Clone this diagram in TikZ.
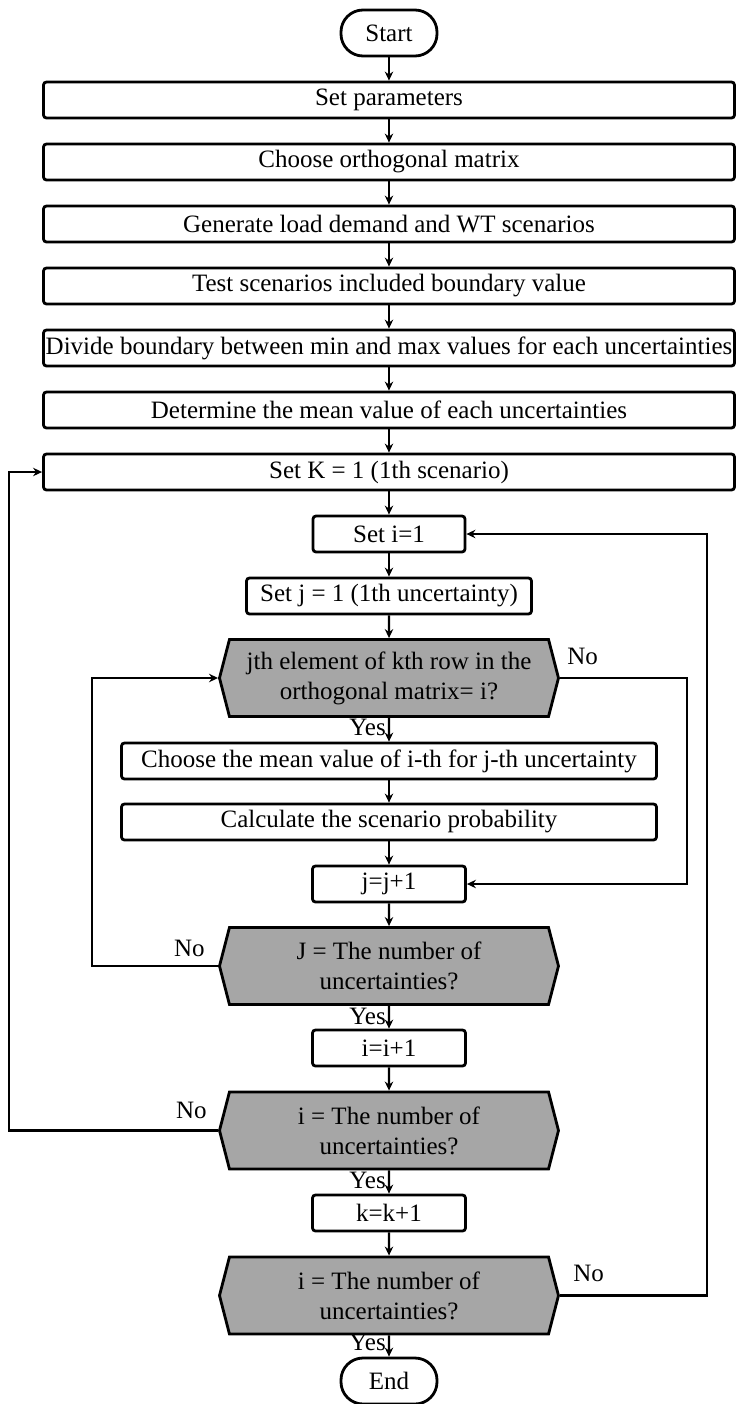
\documentclass[tikz,border=0pt]{standalone}
\usepackage{fontspec}
\setmainfont{Liberation Serif}
\usetikzlibrary{arrows.meta, positioning, shapes.symbols}
\tikzset{
  term/.style  ={rectangle, draw=black, line width=1.4pt, rounded corners=11pt,
                 minimum width=48pt, minimum height=23pt, inner sep=0pt},
  wide/.style  ={rectangle, draw=black, line width=1.4pt, rounded corners=1.5pt,
                 minimum width=345.5pt, minimum height=18pt, inner sep=0pt},
  proc/.style  ={rectangle, draw=black, line width=1.4pt, rounded corners=1.5pt,
                 minimum height=18pt, inner sep=0pt},
  cond/.style  ={signal, signal to=west and east, signal pointer angle=151,
                 draw=black, line width=1.4pt, fill=black!35, align=center,
                 minimum width=169.5pt, minimum height=38.5pt, inner sep=0pt},
  ar/.style    ={-{Stealth[length=4.5pt, width=4.2pt]}, line width=1.2pt, black},
  lp/.style    ={-{Stealth[length=4.5pt, width=4.2pt]}, line width=1.4pt, black},
  lbl/.style   ={inner sep=1pt}
}
\begin{document}
\begin{tikzpicture}[
  font=\fontsize{12.5}{15}\selectfont,
  on grid
]
\useasboundingbox (-194.5pt,16.5pt) rectangle (173pt,-685.5pt);

\node[term] (start) {Start};
\node[wide, below=33.5pt of start] (par) {Set parameters};
\node[wide, below=31pt of par] (orth) {Choose orthogonal matrix};
\node[wide, below=31pt of orth] (gen) {Generate load demand and WT scenarios};
\node[wide, below=31pt of gen] (test) {Test scenarios included boundary value};
\node[wide, below=31pt of test] (bnd)
      {\makebox[330pt]{Divide boundary between min and max values for each uncertainties}};
\node[wide, below=31pt of bnd] (mean) {Determine the mean value of each uncertainties};
\node[wide, below=31pt of mean] (setk) {Set K = 1 (1th scenario)};
\node[proc, minimum width=76pt, below=31pt of setk] (seti) {Set i=1};
\node[proc, minimum width=142.5pt, below=31pt of seti] (setj) {Set j = 1 (1th uncertainty)};
\node[cond, below=41pt of setj] (d1) {jth element of kth row in the\\orthogonal matrix= i?};
\node[proc, minimum width=267.5pt, below=41.5pt of d1] (chm)
      {Choose the mean value of i-th for j-th uncertainty};
\node[proc, minimum width=267.5pt, below=30.5pt of chm] (prob)
      {Calculate the scenario probability};
\node[proc, minimum width=76.5pt, below=31pt of prob] (incj) {j=j+1};
\node[cond, below=41pt of incj] (d2) {J = The number of\\uncertainties?};
\node[proc, minimum width=76.5pt, below=41pt of d2] (inci) {i=i+1};
\node[cond, below=41.25pt of inci] (d3) {i = The number of\\uncertainties?};
\node[proc, minimum width=76.5pt, below=41.25pt of d3] (inck) {k=k+1};
\node[cond, below=41.25pt of inck] (d4) {i = The number of\\uncertainties?};
\node[term, below=42.75pt of d4] (stop) {End};

\draw[ar] (start) -- (par);
\draw[ar] (par) -- (orth);
\draw[ar] (orth) -- (gen);
\draw[ar] (gen) -- (test);
\draw[ar] (test) -- (bnd);
\draw[ar] (bnd) -- (mean);
\draw[ar] (mean) -- (setk);
\draw[ar] (setk) -- (seti);
\draw[ar] (seti) -- (setj);
\draw[ar] (setj) -- (d1);
\draw[ar] (d1) -- node[lbl, left, pos=0.4]{Yes} (chm);
\draw[ar] (chm) -- (prob);
\draw[ar] (prob) -- (incj);
\draw[ar] (incj) -- (d2);
\draw[ar] (d2) -- node[lbl, left, pos=0.45]{Yes} (inci);
\draw[ar] (inci) -- (d3);
\draw[ar] (d3) -- node[lbl, left, pos=0.45]{Yes} (inck);
\draw[ar] (inck) -- (d4);
\draw[ar] (d4) -- node[lbl, left, pos=0.35]{Yes} (stop);

% No branches back up the chart
\draw[lp] (d1.east) -- node[lbl, pos=0, anchor=south west, xshift=2pt, yshift=5pt]{No}
  ++(63.5pt,0) |- (incj.east);
\draw[lp] (d2.west) -- node[lbl, pos=0, anchor=south east, xshift=-5pt, yshift=3pt]{No}
  ++(-63pt,0) |- (d1.west);
\draw[lp] (d3.west) -- node[lbl, pos=0, anchor=south east, xshift=-4pt, yshift=4pt]{No}
  ++(-104.5pt,0) |- (setk.west);
\draw[lp] (d4.east) -- node[lbl, pos=0, anchor=south west, xshift=5pt, yshift=5pt]{No}
  ++(73.5pt,0) |- (seti.east);

\end{tikzpicture}
\end{document}
